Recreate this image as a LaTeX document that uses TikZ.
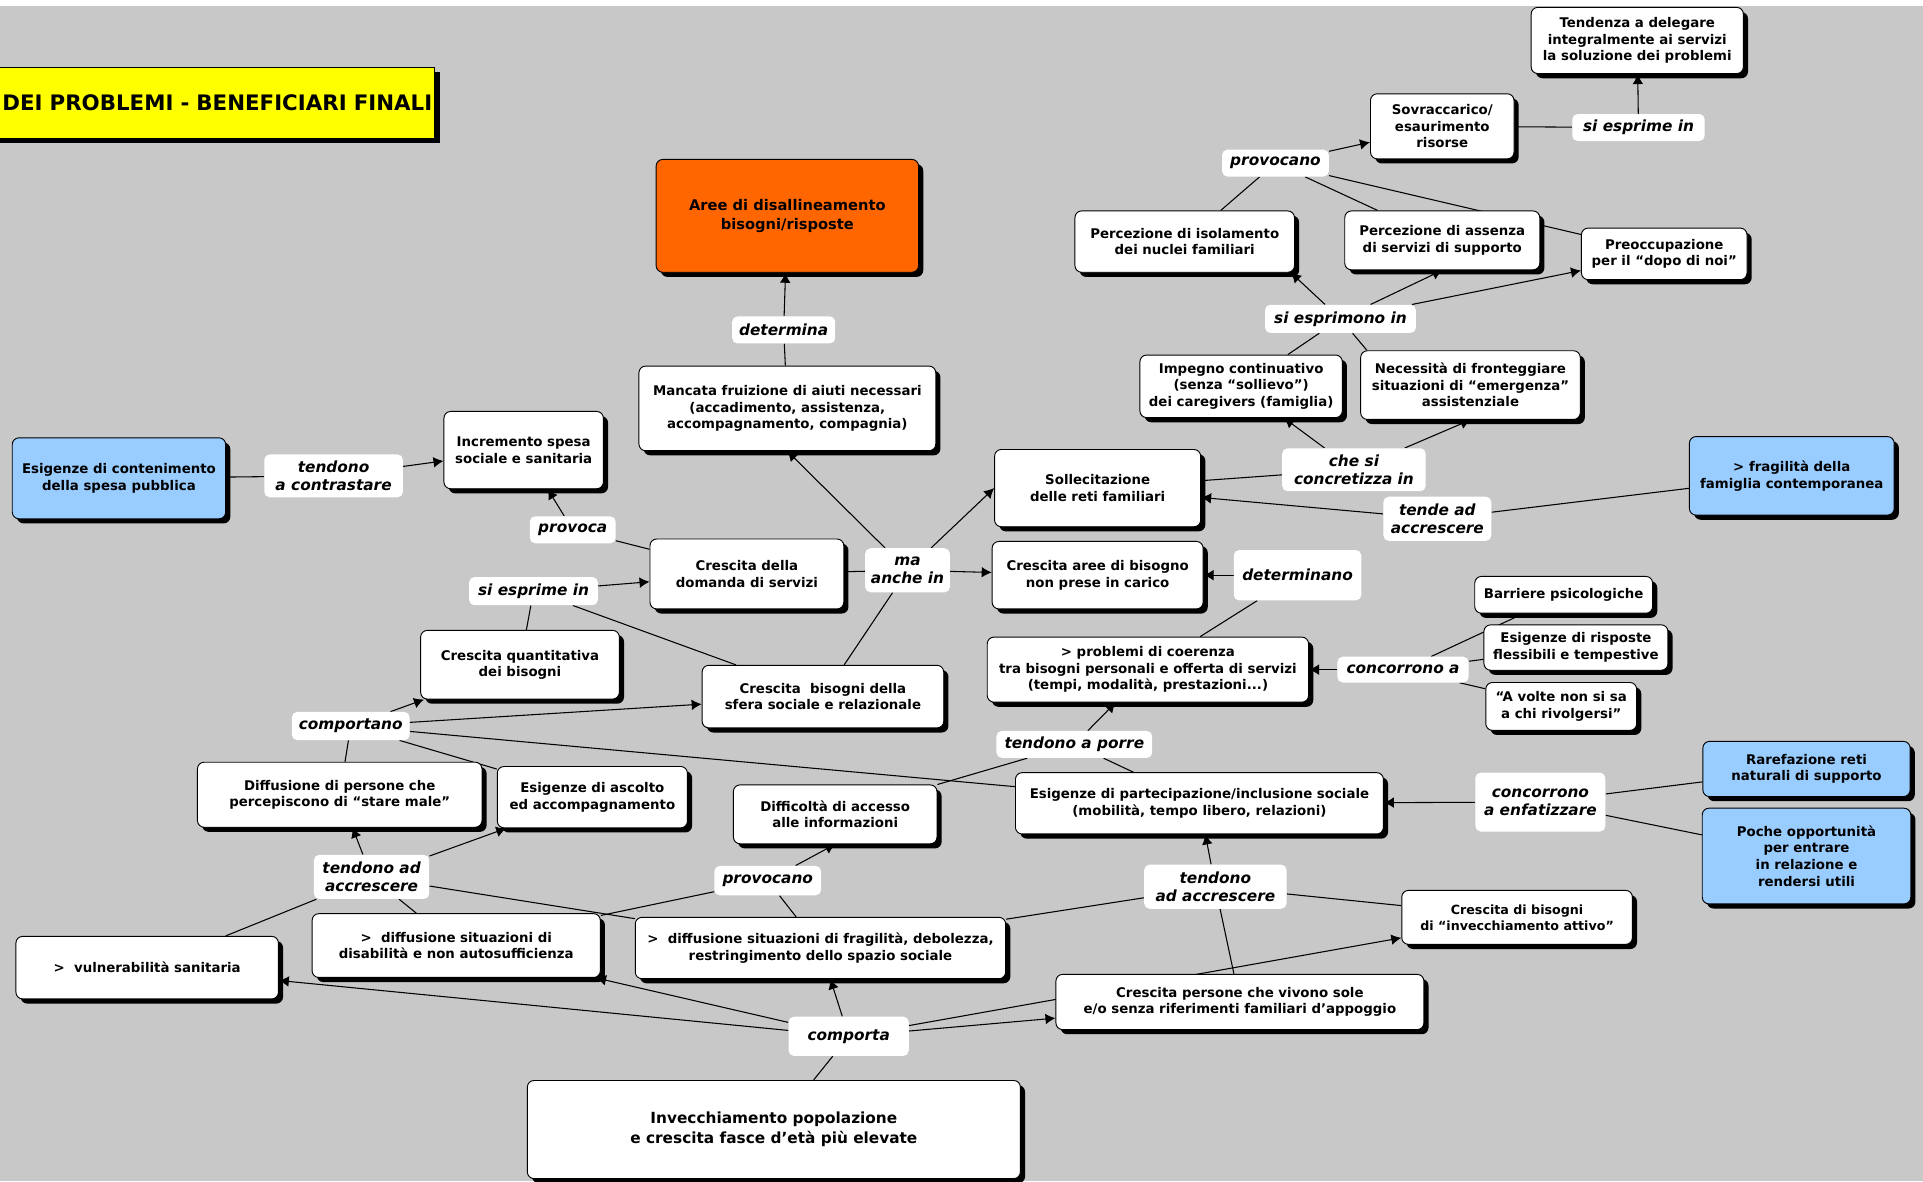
\documentclass[tikz,border=0pt]{standalone}
\usepackage{fontspec}
\setmainfont{DejaVu Sans}
\usepackage{tikz}
\usetikzlibrary{shapes,arrows.meta,calc,positioning,shadows,backgrounds}
\pgfdeclarelayer{edges}
\pgfsetlayers{background,edges,main}

\definecolor{mapgray}{RGB}{200,200,200}
\definecolor{mapblue}{RGB}{153,204,255}
\definecolor{maporange}{RGB}{255,102,0}
\definecolor{mapyellow}{RGB}{255,255,0}
\newcommand*{\pxu}{0.92pt}
\newcommand*{\boxfont}{\fontsize{10}{12.5}\selectfont\bfseries}
\newcommand*{\wordfont}{\fontsize{11.5}{13.8}\selectfont\bfseries\itshape}

\tikzstyle{crec}=[rectangle, draw, line width=0.7pt, fill=white, rounded corners=5pt, align=center, font=\boxfont, inner sep=2pt, drop shadow={shadow xshift=3.5pt,shadow yshift=-3.5pt,fill=black,opacity=1}]
\tikzstyle{crecblue}=[crec, fill=mapblue]
\tikzstyle{lword}=[rectangle, fill=white, rounded corners=4pt, align=center, font=\wordfont, inner xsep=4pt, inner ysep=3pt]
\tikzstyle{conn}=[line width=0.8pt]
\tikzstyle{arr}=[conn, -{Latex[length=7.5pt,width=8pt]}]
\tikzset{sz/.style 2 args={minimum width=#1*\pxu, minimum height=#2*\pxu}}

\begin{document}
\begin{tikzpicture}[x=0.92pt, y=-0.92pt]
	\useasboundingbox (0,0) rectangle (1568,963);
	\clip (0,0) rectangle (1568,963);
	\begin{pgfonlayer}{background}
		\fill[white] (0,0) rectangle (1568,963);
		\fill[mapgray] (0,5) rectangle (1568,963);
	\end{pgfonlayer}

	% title
	\node[crec, fill=mapyellow, rounded corners=0pt, anchor=east, text width=440*\pxu, align=right, minimum height=58*\pxu, font=\fontsize{16}{19}\selectfont\bfseries] (title) at (355,84) {DEI PROBLEMI - BENEFICIARI FINALI};

	% centre and left
	\node[crec, fill=maporange, sz={214}{92}, font=\fontsize{11}{13.8}\selectfont\bfseries] (aree) at (642,176) {Aree di disallineamento\\bisogni/risposte};
	\node[lword, sz={84}{22}] (determina) at (639,269) {determina};
	\node[crec, sz={242}{69}] (mancata) at (642,333) {Mancata fruizione di aiuti necessari\\(accadimento, assistenza,\\accompagnamento, compagnia)};
	\node[crecblue, sz={174}{66}] (contenimento) at (97,390) {Esigenze di contenimento\\della spesa pubblica};
	\node[lword, sz={113}{35}] (contrastare) at (272,388) {tendono\\a contrastare};
	\node[crec, sz={130}{63}] (incremento) at (427,367) {Incremento spesa\\sociale e sanitaria};
	\node[lword, sz={70}{22}] (provoca) at (467,432) {provoca};
	\node[crec, sz={158}{57}] (domanda) at (609,468) {Crescita della\\domanda di servizi};
	\node[lword, sz={105}{23}] (esprime) at (435,482) {si esprime in};
	\node[crec, sz={162}{56}] (quantitativa) at (424,542) {Crescita quantitativa\\dei bisogni};
	\node[crec, sz={197}{51}] (sfera) at (671,568) {Crescita\ \ bisogni della\\sfera sociale e relazionale};
	\node[lword, sz={69}{36}] (anche) at (740,465) {ma\\anche in};
	\node[crec, sz={168}{63}] (sollecitazione) at (895,398) {Sollecitazione\\delle reti familiari};
	\node[crec, sz={172}{55}] (areebisogno) at (895,469) {Crescita aree di bisogno\\non prese in carico};
	\node[lword, sz={104}{41}] (determinano) at (1058,469) {determinano};
	\node[crec, sz={262}{53}] (coerenza) at (936,546) {> problemi di coerenza\\tra bisogni personali e offerta di servizi\\(tempi, modalità, prestazioni...)};
	\node[lword, sz={107}{21}] (concorrono) at (1144,546) {concorrono a};
	\node[crec, sz={145}{30}] (barriere) at (1275,485) {Barriere psicologiche};
	\node[crec, sz={150}{37}] (risposte) at (1285,528) {Esigenze di risposte\\flessibili e tempestive};
	\node[crec, sz={123}{39}] (avolte) at (1273,576) {“A volte non si sa\\a chi rivolgersi”};
	\node[lword, sz={127}{22}] (porre) at (876,607) {tendono a porre};
	\node[crec, sz={166}{48}] (difficolta) at (681,664) {Difficoltà di accesso\\alle informazioni};
	\node[crec, sz={300}{50}] (partecipazione) at (978,655) {Esigenze di partecipazione/inclusione sociale\\(mobilità, tempo libero, relazioni)};
	\node[lword, sz={106}{48}] (enfatizzare) at (1256,654) {concorrono\\a enfatizzare};
	\node[crecblue, sz={169}{45}] (rarefazione) at (1473,627) {Rarefazione reti\\naturali di supporto};
	\node[crecblue, sz={170}{78}] (opportunita) at (1473,698) {Poche opportunità\\per entrare\\in relazione e\\rendersi utili};
	\node[lword, sz={116}{36}] (accrescereR) at (991,723) {tendono\\ad accrescere};
	\node[crec, sz={188}{44}, font=\fontsize{9.5}{12}\selectfont\bfseries] (attivo) at (1237,748) {Crescita di bisogni\\di “invecchiamento attivo”};
	\node[crec, sz={300}{45}] (sole) at (1011,817) {Crescita persone che vivono sole\\e/o senza riferimenti familiari d’appoggio};
	\node[crec, sz={302}{50}] (fragilita) at (669,773) {>\ \ diffusione situazioni di fragilità, debolezza,\\restringimento dello spazio sociale};
	\node[lword, sz={87}{24}] (provocanoB) at (626,718) {provocano};
	\node[crec, sz={235}{52}] (disabilita) at (372,771) {>\ \ diffusione situazioni di\\disabilità e non autosufficienza};
	\node[lword, sz={94}{36}] (accrescereL) at (303,715) {tendono ad\\accrescere};
	\node[crec, sz={214}{51}] (vulnerabilita) at (120,789) {>\ \ vulnerabilità sanitaria};
	\node[crec, sz={232}{53}] (starmale) at (277,648) {Diffusione di persone che\\percepiscono di “stare male”};
	\node[crec, sz={155}{50}] (ascolto) at (483,650) {Esigenze di ascolto\\ed accompagnamento};
	\node[lword, sz={96}{23}] (comportano) at (286,592) {comportano};
	\node[crec, sz={402}{80}, font=\fontsize{11.5}{14.7}\selectfont\bfseries] (invecchiamento) at (631,921) {Invecchiamento popolazione\\e crescita fasce d’età più elevate};
	\node[lword, sz={98}{32}] (comporta) at (692,845) {comporta};

	% top right
	\node[crec, sz={173}{54}] (delegare) at (1335,33) {Tendenza a delegare\\integralmente ai servizi\\la soluzione dei problemi};
	\node[lword, sz={108}{22}] (esprimeT) at (1336,104) {si esprime in};
	\node[crec, sz={117}{53}] (sovraccarico) at (1176,103) {Sovraccarico/\\esaurimento\\risorse};
	\node[lword, sz={87}{22}] (provocanoT) at (1040,133) {provocano};
	\node[crec, sz={179}{50}] (isolamento) at (966,197) {Percezione di isolamento\\dei nuclei familiari};
	\node[crec, sz={159}{48}] (assenza) at (1176,196) {Percezione di assenza\\di servizi di supporto};
	\node[crec, sz={135}{42}] (dopo) at (1357,207) {Preoccupazione\\per il “dopo di noi”};
	\node[lword, sz={123}{23}] (esprimono) at (1093,260) {si esprimono in};
	\node[crec, sz={165}{51}] (impegno) at (1012,315) {Impegno continuativo\\(senza “sollievo”)\\dei caregivers (famiglia)};
	\node[crec, sz={179}{56}] (fronteggiare) at (1199,314) {Necessità di fronteggiare\\situazioni di “emergenza”\\assistenziale};
	\node[lword, sz={117}{35}] (concretizza) at (1104,383) {che si\\concretizza in};
	\node[lword, sz={88}{36}] (tende) at (1172,423) {tende ad\\accrescere};
	\node[crecblue, sz={167}{64}] (famiglia) at (1461,388) {> fragilità della\\famiglia contemporanea};

	\begin{pgfonlayer}{edges}
		\draw[conn] (mancata) -- (determina);
		\draw[arr] (determina) -- (aree);
		\draw[conn] (contenimento) -- (contrastare);
		\draw[arr] (contrastare) -- (incremento);
		\draw[conn] (domanda) -- (provoca);
		\draw[arr] (provoca) -- (incremento);
		\draw[conn] (quantitativa) -- (esprime);
		\draw[conn] (sfera) -- (esprime);
		\draw[arr] (esprime) -- (domanda);
		\draw[conn] (domanda) -- (anche);
		\draw[conn] (sfera) -- (anche);
		\draw[arr] (anche) -- (mancata.south);
		\draw[arr] (anche) -- (sollecitazione.west);
		\draw[arr] (anche) -- (areebisogno);
		\draw[arr] (determinano) -- (areebisogno);
		\draw[conn] (coerenza) -- (determinano);
		\draw[arr] (concorrono) -- (coerenza);
		\draw[conn] (barriere) -- (concorrono);
		\draw[conn] (risposte) -- (concorrono);
		\draw[conn] (avolte) -- (concorrono);
		\draw[arr] (porre) -- (coerenza);
		\draw[conn] (difficolta) -- (porre);
		\draw[conn] (partecipazione) -- (porre);
		\draw[conn] (comportano) -- (partecipazione);
		\draw[arr] (enfatizzare) -- (partecipazione);
		\draw[conn] (rarefazione) -- (enfatizzare);
		\draw[conn] (opportunita) -- (enfatizzare);
		\draw[arr] (accrescereR) -- (partecipazione);
		\draw[conn] (fragilita) -- (accrescereR);
		\draw[conn] (attivo) -- (accrescereR);
		\draw[conn] (sole) -- (accrescereR);
		\draw[arr] (provocanoB) -- (difficolta.south);
		\draw[conn] (fragilita) -- (provocanoB);
		\draw[conn] (disabilita) -- (provocanoB);
		\draw[arr] (accrescereL) -- (starmale);
		\draw[arr] (accrescereL) -- (ascolto);
		\draw[conn] (vulnerabilita) -- (accrescereL);
		\draw[conn] (disabilita) -- (accrescereL);
		\draw[conn] (fragilita) -- (accrescereL);
		\draw[conn] (starmale) -- (comportano);
		\draw[conn] (ascolto) -- (comportano);
		\draw[arr] (comportano) -- (quantitativa);
		\draw[arr] (comportano) -- (sfera);
		\draw[conn] (invecchiamento) -- (comporta);
		\draw[arr] (comporta) -- (vulnerabilita);
		\draw[arr] (comporta) -- (disabilita);
		\draw[arr] (comporta) -- (fragilita);
		\draw[arr] (comporta) -- (sole);
		\draw[arr] (comporta) -- (attivo);
		% top right
		\draw[conn] (sovraccarico) -- (esprimeT);
		\draw[arr] (esprimeT) -- (delegare);
		\draw[arr] (provocanoT) -- (sovraccarico);
		\draw[conn] (isolamento) -- (provocanoT);
		\draw[conn] (assenza) -- (provocanoT);
		\draw[conn] (dopo) -- (provocanoT);
		\draw[arr] (esprimono) -- ([xshift=-3pt]isolamento.south east);
		\draw[arr] (esprimono) -- (assenza.south);
		\draw[arr] (esprimono) -- (dopo);
		\draw[conn] (impegno) -- (esprimono);
		\draw[conn] ([xshift=5pt]fronteggiare.north west) -- (esprimono);
		\draw[conn] (sollecitazione) -- (concretizza);
		\draw[arr] (concretizza) -- (impegno);
		\draw[arr] (concretizza) -- (fronteggiare.south);
		\draw[conn] (famiglia) -- (tende);
		\draw[arr] (tende) -- (sollecitazione);
	\end{pgfonlayer}
\end{tikzpicture}
\end{document}
